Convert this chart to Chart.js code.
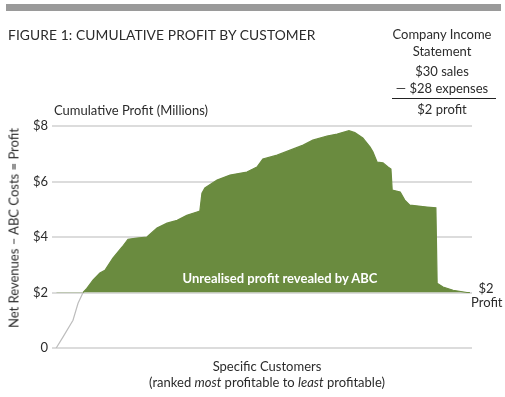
<!DOCTYPE html>
<html>
<head>
<meta charset="utf-8">
<script src="https://cdn.jsdelivr.net/npm/chart.js@4"></script>
<style>
  html, body { margin: 0; padding: 0; background: #fff; }
  #wrap { position: relative; width: 505px; height: 397px; overflow: hidden; font-family: "Lato", "Noto Sans", sans-serif; color: #2b2b2b; }
  #wrap canvas { position: absolute; left: 0; top: 0; }
  .txt { position: absolute; white-space: nowrap; line-height: 1; }
  #topbar { position: absolute; left: 6px; top: 4px; width: 495px; height: 7px; background: #9a9a9a; }
  #title { left: 8px; top: 28px; font-size: 13.8px; letter-spacing: 0.1px; }
  #stmt { position: absolute; left: 388px; top: 26px; width: 108px; text-align: center; font-size: 13px; line-height: 16.5px; }
  #stmt .rule { border-top: 1.5px solid #222; margin: 2px 0 2px 4px; }
  #ylabel { left: 54px; top: 104px; font-size: 13px; }
  #yside { left: 14px; top: 228px; font-size: 13px; transform: translate(-50%, -50%) rotate(-90deg); }
  #inside { left: 280px; top: 272px; font-size: 13px; color: #fff; transform: translateX(-50%); font-weight: bold; }
  #endlbl { left: 471px; top: 281px; width: 30px; text-align: center; font-size: 13px; line-height: 14px; white-space: normal; }
  #xlbl { left: 267px; top: 358px; font-size: 13px; line-height: 16px; text-align: center; transform: translateX(-50%); }
</style>
</head>
<body>
<div id="wrap">
  <canvas id="chart" width="505" height="397"></canvas>
  <div id="topbar"></div>
  <div class="txt" id="title">FIGURE 1: CUMULATIVE PROFIT BY CUSTOMER</div>
  <div id="stmt">Company Income<br>Statement<div style="height:4px"></div>$30 sales<br>&mdash; $28 expenses<div class="rule"></div>$2 profit</div>
  <div class="txt" id="ylabel">Cumulative Profit (Millions)</div>
  <div class="txt" id="yside">Net Revenues &ndash; ABC Costs = Profit</div>
  <div class="txt" id="inside">Unrealised profit revealed by ABC</div>
  <div class="txt" id="endlbl">$2<br>Profit</div>
  <div class="txt" id="xlbl">Specific Customers<br>(ranked <i>most</i> profitable to <i>least</i> profitable)</div>
</div>
<script>
/* ---------------- DATA ---------------- */
// customers ranked most -> least profitable, as % of the customer list
const customerRank = [1.0, 2.6, 5.0, 6.2, 7.4, 8.3, 9.8, 11.4, 12.6, 14.5, 16.7, 18.1, 20.2, 22.6,
  25.0, 27.4, 29.8, 32.1, 34.5, 35.2, 35.7, 36.4, 39.3, 42.4, 46.4, 48.8, 50.2, 53.6, 56.7, 59.8,
  62.1, 65.5, 67.9, 70.7, 72.1, 74.0, 75.7, 76.4, 77.4, 78.8, 80.0, 80.7, 81.0, 82.9, 84.0, 85.2,
  89.3, 91.4, 91.7, 93.1, 95.5, 98.8, 99.5];
// cumulative profit, $ millions
const cumulativeProfit = [0, 0.39, 1.0, 1.61, 2.0, 2.15, 2.45, 2.7, 2.8, 3.24, 3.64, 3.92, 3.96, 4.0,
  4.32, 4.5, 4.6, 4.78, 4.9, 4.93, 5.58, 5.77, 6.05, 6.23, 6.34, 6.52, 6.81, 6.95, 7.13, 7.31,
  7.49, 7.64, 7.71, 7.83, 7.76, 7.57, 7.25, 7.07, 6.7, 6.67, 6.52, 6.45, 5.69, 5.62, 5.33, 5.15,
  5.08, 5.05, 2.33, 2.2, 2.08, 2.0, 2.0];
const reportedProfit = 2;          // company income statement profit
const yTicks = [0, 2, 4, 6, 8];
/* -------------------------------------- */

const GREEN = "#6a8b3f";
const LINE_GRAY = "#bdbdbd";

const points = customerRank.map((r, i) => ({ x: r, y: cumulativeProfit[i] }));

new Chart(document.getElementById('chart'), {
  type: 'line',
  data: {
    datasets: [{
      data: points,
      borderWidth: 1.2,
      pointRadius: 0,
      tension: 0,
      fill: { target: { value: reportedProfit }, above: GREEN, below: 'rgba(0,0,0,0)' },
      segment: {
        borderColor: ctx => (ctx.p0.parsed.y < reportedProfit || ctx.p1.parsed.y < reportedProfit) ? LINE_GRAY : GREEN
      }
    }]
  },
  options: {
    responsive: false,
    animation: false,
    layout: { padding: { left: 0, right: 33, top: 126, bottom: 49 } },
    plugins: { legend: { display: false }, tooltip: { enabled: false } },
    scales: {
      x: { type: 'linear', min: 0, max: 100, display: false },
      y: {
        min: 0, max: 8,
        afterFit: s => { s.width = 52; },
        afterBuildTicks: s => { s.ticks = yTicks.map(v => ({ value: v })); },
        border: { display: false },
        grid: { color: '#dcdcdc', lineWidth: 2, drawTicks: false },
        ticks: {
          padding: 4,
          color: '#2b2b2b',
          font: { family: 'Lato', size: 13 },
          callback: v => v === 0 ? '0' : '$' + v
        }
      }
    }
  }
});
</script>
</body>
</html>
